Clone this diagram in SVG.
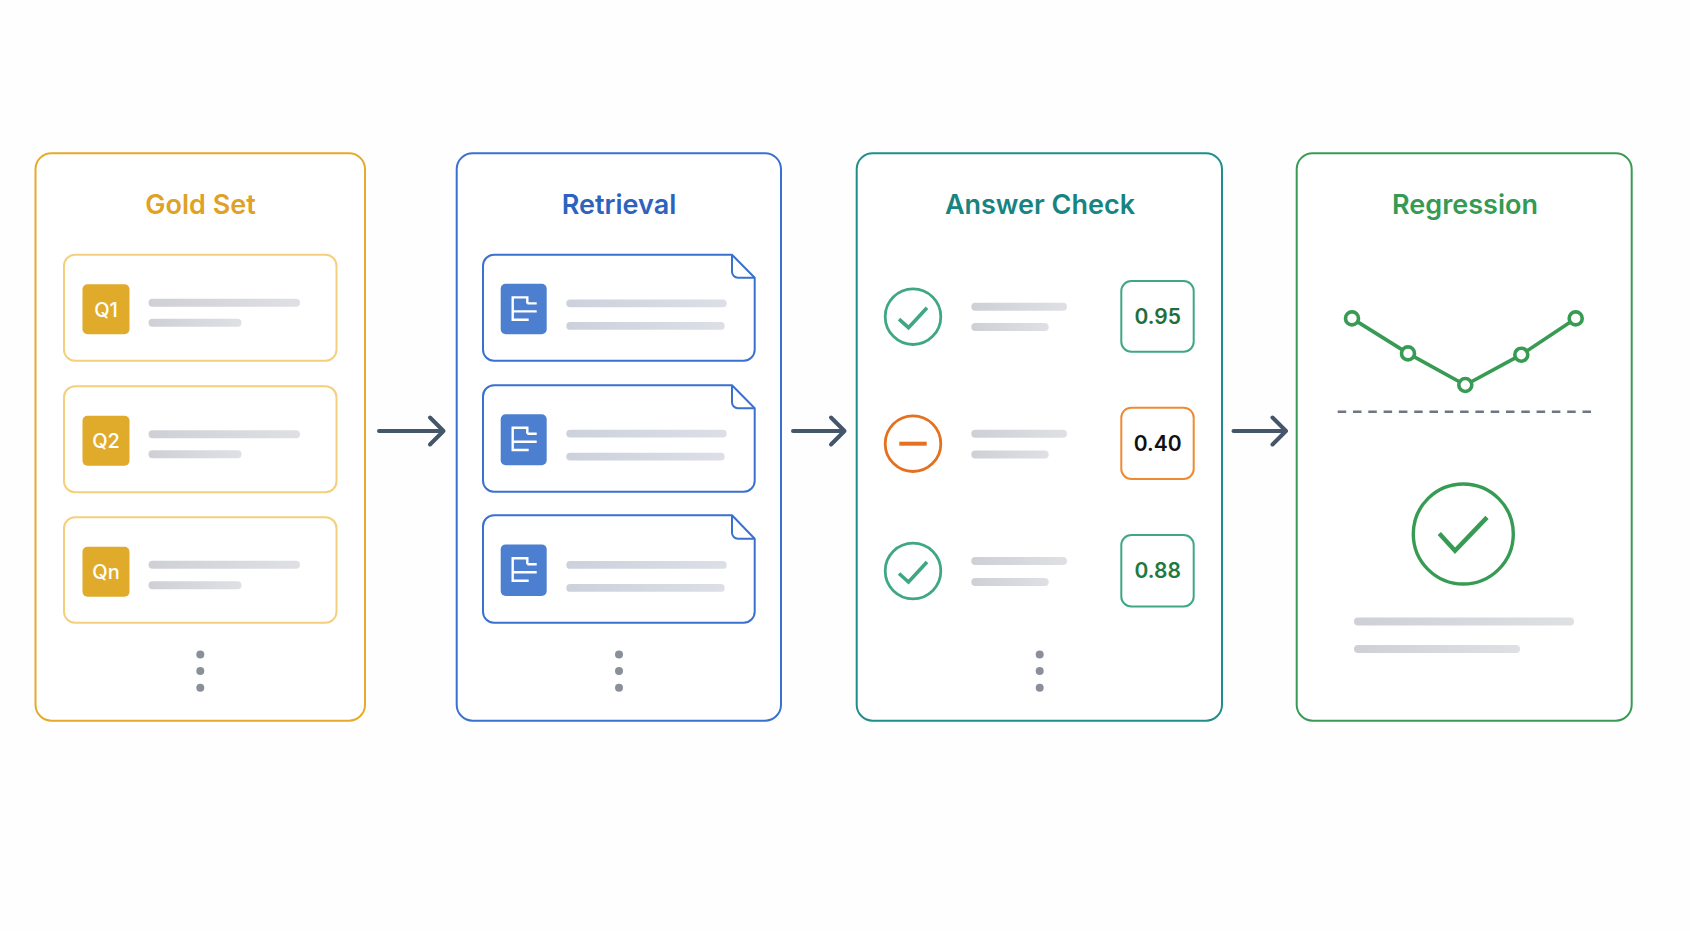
<svg xmlns="http://www.w3.org/2000/svg" width="1690" height="931" viewBox="0 0 1690 931">
<style>
text{font-family:Inter,"Liberation Sans",Arial,sans-serif;text-anchor:middle}
.title{font-size:27px;font-weight:600}
.panel{fill:#fff;stroke-width:2}
.qcard{fill:#fff;stroke:#f4d07e;stroke-width:2}
.badge{fill:#e0aa2b}
.qt{font-size:20px;font-weight:500;fill:#fff}
.doc{fill:#fff;stroke:#3a70cf;stroke-width:2;stroke-linejoin:round}
.fold{fill:none;stroke:#3a70cf;stroke-width:2;stroke-linejoin:round}
.ico{fill:#4d7fd0}
.gly{fill:none;stroke:#fff;stroke-width:2.4}
.dot{fill:#8a8f99}
.ok{fill:none;stroke:#3fa882;stroke-width:2.8}
.okm{fill:none;stroke:#3fa882;stroke-width:3.6}
.score{font-size:21px;font-weight:600}
.box{fill:#fff;stroke-width:2}
.arrow{fill:none;stroke:#46566a;stroke-width:4;stroke-linecap:round;stroke-linejoin:round}
.g{stroke:#379b54;fill:none}
.bg1{fill:url(#barG)}
.bb1{fill:url(#barB)}
</style>
<defs>
<linearGradient id="barG"><stop offset="0" stop-color="#cfd0d6"/><stop offset="1" stop-color="#dfe0e4"/></linearGradient>
<linearGradient id="barB"><stop offset="0" stop-color="#ccd1dc"/><stop offset="1" stop-color="#dcdfe6"/></linearGradient>
</defs>
<rect width="1690" height="931" fill="#fefefe"/>

<g id="connectors">
<path class="arrow" d="M379 431H443.500M430 417.500L443.500 431L430 444.500"/>
<path class="arrow" d="M793 431H844.500M831 417.500L844.500 431L831 444.500"/>
<path class="arrow" d="M1233.500 431H1286M1272.500 417.500L1286 431L1272.500 444.500"/>
</g>

<g transform="translate(0 0.7)">
<g id="panel-gold-set">
<rect class="panel" x="35.500" y="152.500" width="329.500" height="567.500" rx="16" stroke="#e5aa2a"/>
<text class="title" x="200.500" y="213" fill="#dfa126">Gold Set</text>
<g id="q1">
<rect class="qcard" x="64" y="254" width="272.500" height="106" rx="11"/>
<rect class="badge" x="82.500" y="283.500" width="47" height="50" rx="5"/>
<text class="qt" x="106" y="316">Q1</text>
<rect class="bg1" x="148.500" y="298" width="151.500" height="8" rx="4"/>
<rect class="bg1" x="148.500" y="318" width="93" height="8" rx="4"/>
</g>
<g id="q2">
<rect class="qcard" x="64" y="385.500" width="272.500" height="106" rx="11"/>
<rect class="badge" x="82.500" y="415" width="47" height="50" rx="5"/>
<text class="qt" x="106" y="447.500">Q2</text>
<rect class="bg1" x="148.500" y="429.500" width="151.500" height="8" rx="4"/>
<rect class="bg1" x="148.500" y="449.500" width="93" height="8" rx="4"/>
</g>
<g id="qn">
<rect class="qcard" x="64" y="516.500" width="272.500" height="105.500" rx="11"/>
<rect class="badge" x="82.500" y="546" width="47" height="50" rx="5"/>
<text class="qt" x="106" y="578.500">Qn</text>
<rect class="bg1" x="148.500" y="560" width="151.500" height="8" rx="4"/>
<rect class="bg1" x="148.500" y="580.500" width="93" height="8" rx="4"/>
</g>
<circle class="dot" cx="200.300" cy="653.700" r="4"/><circle class="dot" cx="200.300" cy="670.300" r="4"/><circle class="dot" cx="200.300" cy="687" r="4"/>
</g>

<g id="panel-retrieval">
<rect class="panel" x="456.700" y="152.500" width="324.300" height="567.500" rx="16" stroke="#3a70cf"/>
<text class="title" x="619" y="213" fill="#2d63bd">Retrieval</text>
<g id="doc1">
<path class="doc" d="M494 254H732L754.700 277V349A11 11 0 0 1 743.700 360H494A11 11 0 0 1 483 349V265A11 11 0 0 1 494 254Z"/>
<path class="fold" d="M732 254V271A6 6 0 0 0 738 277H754.700"/>
<rect class="ico" x="500.700" y="283" width="46" height="50.500" rx="5"/>
<path class="gly" d="M527.300 302.700V296.700H512.700V319H528.700M527.300 302.700H536.700M512.700 310.700H536.700"/>
<rect class="bb1" x="566.300" y="298.700" width="160.400" height="7.800" rx="3.900"/>
<rect class="bb1" x="566.300" y="321.300" width="158.400" height="7.800" rx="3.900"/>
</g>
<g id="doc2">
<path class="doc" d="M494 384.500H732L754.700 407.500V480A11 11 0 0 1 743.700 491H494A11 11 0 0 1 483 480V395.500A11 11 0 0 1 494 384.500Z"/>
<path class="fold" d="M732 384.500V401.500A6 6 0 0 0 738 407.500H754.700"/>
<rect class="ico" x="500.700" y="413.500" width="46" height="51" rx="5"/>
<path class="gly" d="M527.300 433V427H512.700V449.300H528.700M527.300 433H536.700M512.700 441H536.700"/>
<rect class="bb1" x="566.300" y="429" width="160.400" height="7.800" rx="3.900"/>
<rect class="bb1" x="566.300" y="452" width="158.400" height="7.800" rx="3.900"/>
</g>
<g id="doc3">
<path class="doc" d="M494 514.500H732L754.700 538V611A11 11 0 0 1 743.700 622H494A11 11 0 0 1 483 611V525.500A11 11 0 0 1 494 514.500Z"/>
<path class="fold" d="M732 514.500V532A6 6 0 0 0 738 538H754.700"/>
<rect class="ico" x="500.700" y="543.700" width="46" height="51.500" rx="5"/>
<path class="gly" d="M527.300 563.500V557.500H512.700V580H528.700M527.300 563.500H536.700M512.700 571.500H536.700"/>
<rect class="bb1" x="566.300" y="560.300" width="160.400" height="7.800" rx="3.900"/>
<rect class="bb1" x="566.300" y="583.300" width="158.400" height="7.800" rx="3.900"/>
</g>
<circle class="dot" cx="619" cy="653.700" r="4"/><circle class="dot" cx="619" cy="670.300" r="4"/><circle class="dot" cx="619" cy="687" r="4"/>
</g>

<g id="panel-answer-check">
<rect class="panel" x="856.700" y="152.500" width="365.300" height="567.500" rx="16" stroke="#1f8d88"/>
<text class="title" x="1040" y="213" fill="#178481">Answer Check</text>
<g id="check1">
<circle class="ok" cx="913" cy="316" r="27.800"/>
<path class="okm" d="M899 318.500L908.500 327L927 307"/>
<rect class="bg1" x="971.300" y="302" width="95.700" height="8" rx="4"/>
<rect class="bg1" x="971.300" y="322.300" width="77.400" height="8" rx="4"/>
<rect class="box" x="1121.300" y="280.300" width="72.400" height="70.700" rx="10" stroke="#3fa882"/>
<text class="score" x="1157.700" y="323.500" fill="#1f6f3e">0.95</text>
</g>
<g id="check2">
<circle cx="913" cy="443" r="27.800" fill="none" stroke="#e4711f" stroke-width="2.800"/>
<path d="M899.300 443H926.700" fill="none" stroke="#e4711f" stroke-width="4"/>
<rect class="bg1" x="971.300" y="429" width="95.700" height="8" rx="4"/>
<rect class="bg1" x="971.300" y="449.700" width="77.400" height="8" rx="4"/>
<rect class="box" x="1121.300" y="407" width="72.400" height="71.300" rx="10" stroke="#ee8a33"/>
<text class="score" x="1157.700" y="450.500" fill="#111">0.40</text>
</g>
<g id="check3">
<circle class="ok" cx="913" cy="570.300" r="27.800"/>
<path class="okm" d="M899 572.800L908.500 581.300L927 561.300"/>
<rect class="bg1" x="971.300" y="556.300" width="95.700" height="8" rx="4"/>
<rect class="bg1" x="971.300" y="577.300" width="77.400" height="8" rx="4"/>
<rect class="box" x="1121.300" y="534.300" width="72.400" height="71.400" rx="10" stroke="#3fa882"/>
<text class="score" x="1157.700" y="577.500" fill="#1f7a40">0.88</text>
</g>
<circle class="dot" cx="1039.700" cy="653.700" r="4"/><circle class="dot" cx="1039.700" cy="670.300" r="4"/><circle class="dot" cx="1039.700" cy="687" r="4"/>
</g>

<g id="panel-regression">
<rect class="panel" x="1296.700" y="152.500" width="335" height="567.500" rx="16" stroke="#379b54"/>
<text class="title" x="1465" y="213" fill="#359a52">Regression</text>
<path class="g" stroke-width="3.600" d="M1352 317.700L1408 352.700L1465.300 384.300L1521.300 354L1575.700 317.700"/>
<g class="g" stroke-width="3.600">
<circle cx="1352" cy="317.700" r="6.500" fill="#fff"/><circle cx="1408" cy="352.700" r="6.500" fill="#fff"/><circle cx="1465.300" cy="384.300" r="6.500" fill="#fff"/><circle cx="1521.300" cy="354" r="6.500" fill="#fff"/><circle cx="1575.700" cy="317.700" r="6.500" fill="#fff"/>
</g>
<path d="M1337.700 411H1591" fill="none" stroke="#6f7682" stroke-width="2.400" stroke-dasharray="8.500 6.800"/>
<circle class="g" cx="1463.300" cy="533.300" r="50" stroke-width="3.400"/>
<path class="g" stroke-width="4.500" d="M1439.300 532.700L1455 550L1487 516.700"/>
<rect class="bg1" x="1354" y="616.700" width="220" height="8" rx="4"/>
<rect class="bg1" x="1354" y="644.300" width="166" height="8" rx="4"/>
</g>
</g>
</svg>
